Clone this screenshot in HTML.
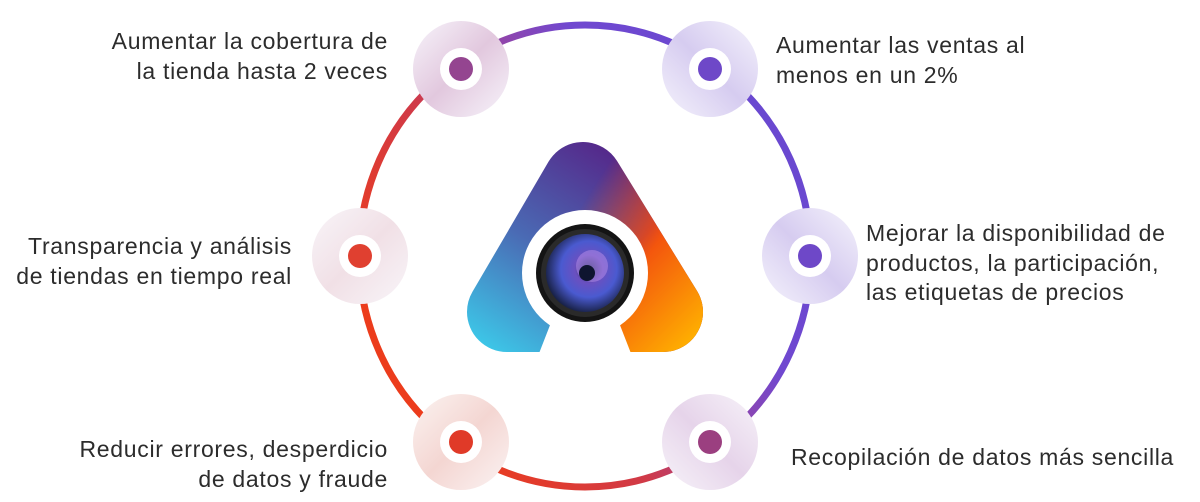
<!DOCTYPE html>
<html><head><meta charset="utf-8"><style>
html,body{margin:0;padding:0;background:#fff;}
body{width:1200px;height:502px;position:relative;overflow:hidden;font-family:"Liberation Sans",sans-serif;}
.t{position:absolute;font-size:23px;letter-spacing:0.7px;line-height:29.5px;color:#2c2c2c;white-space:nowrap;}
.r{text-align:right;}
</style></head><body>
<svg width="1200" height="502" style="position:absolute;left:0;top:0">
<defs>
<linearGradient id="ring" x1="0.1" y1="0.75" x2="0.9" y2="0.25">
<stop offset="0" stop-color="#ec3c1c"/><stop offset="0.35" stop-color="#d03a48"/><stop offset="0.55" stop-color="#9a44a0"/><stop offset="0.75" stop-color="#7048d0"/><stop offset="1" stop-color="#6a48d0"/>
</linearGradient>
<linearGradient id="base" gradientUnits="userSpaceOnUse" x1="480" y1="350" x2="610" y2="150">
<stop offset="0" stop-color="#3ccbea"/><stop offset="0.5" stop-color="#4a6ab4"/><stop offset="1" stop-color="#55288a"/>
</linearGradient>
<linearGradient id="mg1" gradientUnits="userSpaceOnUse" x1="585" y1="200" x2="655" y2="245">
<stop offset="0" stop-color="#000"/><stop offset="1" stop-color="#fff"/>
</linearGradient>
<linearGradient id="mg2" gradientUnits="userSpaceOnUse" x1="610" y1="270" x2="690" y2="350">
<stop offset="0" stop-color="#000"/><stop offset="1" stop-color="#fff"/>
</linearGradient>
<mask id="m1" maskUnits="userSpaceOnUse" x="0" y="0" width="1200" height="502"><rect x="0" y="0" width="1200" height="502" fill="url(#mg1)"/><rect x="0" y="250" width="580" height="252" fill="#000"/></mask>
<mask id="m2" maskUnits="userSpaceOnUse" x="0" y="0" width="1200" height="502"><rect x="0" y="0" width="1200" height="502" fill="url(#mg2)"/><rect x="0" y="250" width="580" height="252" fill="#000"/></mask>
<radialGradient id="lens" cx="0.55" cy="0.45" r="0.6">
<stop offset="0" stop-color="#1a2a50"/><stop offset="0.3" stop-color="#6a50c0"/><stop offset="0.6" stop-color="#4a5ad0"/><stop offset="1" stop-color="#101830"/>
</radialGradient>
<linearGradient id="h1" x1="0" y1="0" x2="1" y2="1"><stop offset="0" stop-color="#f7f4fb"/><stop offset="0.5" stop-color="#e2c8de"/><stop offset="1" stop-color="#f7f4fb"/></linearGradient>
<linearGradient id="h2" x1="1" y1="0" x2="0" y2="1"><stop offset="0" stop-color="#f5f3fc"/><stop offset="0.5" stop-color="#d6ccf0"/><stop offset="1" stop-color="#f5f3fc"/></linearGradient>
<linearGradient id="h3" x1="0" y1="0" x2="1" y2="1"><stop offset="0" stop-color="#f8f5f9"/><stop offset="0.5" stop-color="#f1e0e6"/><stop offset="1" stop-color="#f8f5f9"/></linearGradient>
<linearGradient id="h5" x1="0" y1="0" x2="1" y2="1"><stop offset="0" stop-color="#fbf3f1"/><stop offset="0.5" stop-color="#f4d6d2"/><stop offset="1" stop-color="#fbf3f3"/></linearGradient>
<linearGradient id="h6" x1="1" y1="0" x2="0" y2="1"><stop offset="0" stop-color="#f7f3f9"/><stop offset="0.5" stop-color="#e6d4ea"/><stop offset="1" stop-color="#f7f3f9"/></linearGradient>
</defs>
<ellipse cx="585" cy="256" rx="226" ry="231" fill="none" stroke="url(#ring)" stroke-width="7"/>
<g>
<circle cx="461" cy="69" r="48" fill="url(#h1)"/><circle cx="461" cy="69" r="21" fill="#fff"/><circle cx="461" cy="69" r="12" fill="#944590"/>
<circle cx="710" cy="69" r="48" fill="url(#h2)"/><circle cx="710" cy="69" r="21" fill="#fff"/><circle cx="710" cy="69" r="12" fill="#6e48c8"/>
<circle cx="360" cy="256" r="48" fill="url(#h3)"/><circle cx="360" cy="256" r="21" fill="#fff"/><circle cx="360" cy="256" r="12" fill="#e04030"/>
<circle cx="810" cy="256" r="48" fill="url(#h2)"/><circle cx="810" cy="256" r="21" fill="#fff"/><circle cx="810" cy="256" r="12" fill="#6e48c8"/>
<circle cx="461" cy="442" r="48" fill="url(#h5)"/><circle cx="461" cy="442" r="21" fill="#fff"/><circle cx="461" cy="442" r="12" fill="#e03a28"/>
<circle cx="710" cy="442" r="48" fill="url(#h6)"/><circle cx="710" cy="442" r="21" fill="#fff"/><circle cx="710" cy="442" r="12" fill="#9b3f80"/>
</g>
<polygon points="507,312 583,182 663,312" fill="url(#base)" stroke="url(#base)" stroke-width="80" stroke-linejoin="round"/>
<g mask="url(#m1)">
<polygon points="507,312 583,182 663,312" fill="#f24810" stroke="#f24810" stroke-width="80" stroke-linejoin="round"/>
</g>
<g mask="url(#m2)">
<polygon points="507,312 583,182 663,312" fill="#ffb400" stroke="#ffb400" stroke-width="80" stroke-linejoin="round"/>
</g>
<polygon points="552,320 618,320 632,356 538,356" fill="#fff"/>
<circle cx="585" cy="273" r="63" fill="#fff"/>
<circle cx="585" cy="273" r="49" fill="#141414"/>
<circle cx="585" cy="273" r="44" fill="#2a2a2a"/>
<circle cx="585" cy="273" r="39" fill="url(#lens)"/>
<circle cx="592" cy="266" r="16" fill="#b08ae8" opacity="0.55"/>
<circle cx="587" cy="273" r="8" fill="#0e1530"/>
</svg>
<div class="t r" style="right:812px;top:27px">Aumentar la cobertura de<br>la tienda hasta 2 veces</div>
<div class="t" style="left:776px;top:31px">Aumentar las ventas al<br>menos en un 2%</div>
<div class="t r" style="right:908px;top:232px">Transparencia y análisis<br>de tiendas en tiempo real</div>
<div class="t" style="left:866px;top:219px">Mejorar la disponibilidad de<br>productos, la participación,<br>las etiquetas de precios</div>
<div class="t r" style="right:812px;top:435px">Reducir errores, desperdicio<br>de datos y fraude</div>
<div class="t" style="left:791px;top:443px">Recopilación de datos más sencilla</div>
</body></html>
